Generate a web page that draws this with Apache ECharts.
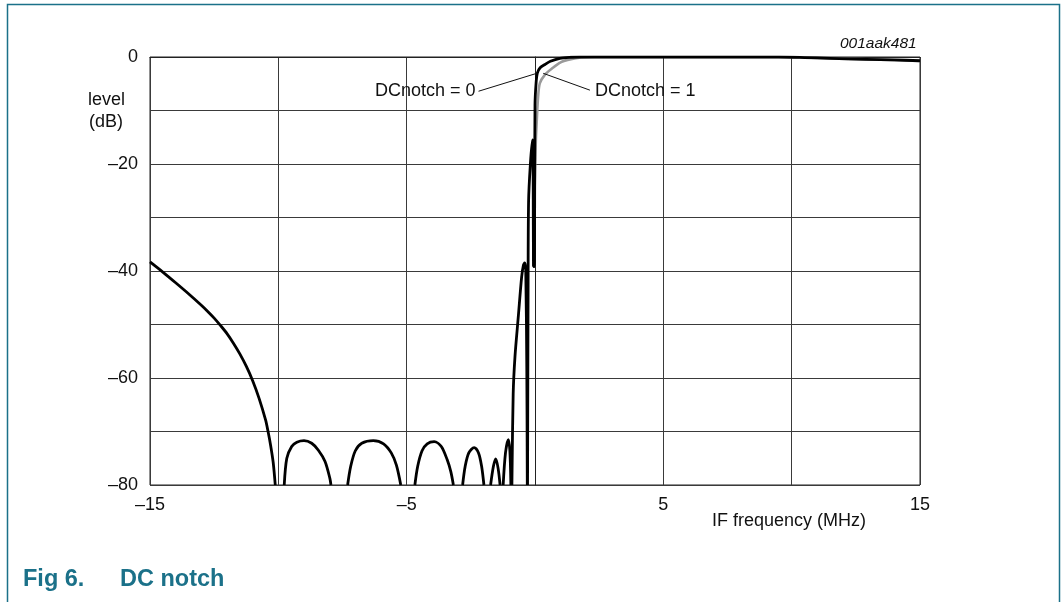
<!DOCTYPE html>
<html>
<head>
<meta charset="utf-8">
<title>DC notch</title>
<script src="https://cdn.jsdelivr.net/npm/echarts@6/dist/echarts.min.js"></script>
<style>
html, body { margin: 0; padding: 0; background: #fff; }
#main { width: 1063px; height: 602px; }
</style>
</head>
<body>
<div id="main"></div>
<script>
// IF frequency (MHz) and level (dB).
// null = trace has dropped below the -80 dB floor (line is broken there)
var notch0Freq = [
  -15, -14.5, -14.0, -13.5, -13.0, -12.75, -12.5, -12.25, -12.0, -11.75, -11.5, -11.25, -11.0, -10.75, -10.5, -10.4, -10.3, -10.2, -10.12, -10.05,
  -9.77, -9.67, -9.48, -9.28, -9.0, -8.7, -8.44, -8.18, -7.99, -7.95, -7.6,
  -7.30, -7.18, -7.0, -6.75, -6.3, -5.9, -5.6, -5.4, -5.23, -5.0,
  -4.68, -4.57, -4.4, -4.2, -3.93, -3.65, -3.42, -3.28, -3.18, -3.0,
  -2.82, -2.72, -2.58, -2.37, -2.2, -2.08, -1.99, -1.85,
  -1.73, -1.62, -1.53, -1.44, -1.36, -1.3,
  -1.24, -1.15, -1.04, -0.98, -0.94, -0.92,
  -0.90, -0.85, -0.78, -0.65, -0.52, -0.45, -0.40, -0.36, -0.32, -0.30, -0.295,
  -0.29, -0.27, -0.25, -0.18, -0.10, -0.07, -0.06, -0.03, -0.01,
  0.0, 0.04, 0.09, 0.2, 0.39, 0.6, 0.97, 1.4, 1.75, 5, 9.5, 10.5, 11.5, 12.9, 14, 15
];
var notch0Level = [
  -38.3, -40.2, -42.2, -44.25, -46.4, -47.55, -48.8, -50.2, -51.7, -53.5, -55.5, -57.8, -60.5, -63.8, -67.8, -70.0, -72.6, -75.8, -80, null,
  -80, -75, -72.8, -72, -71.7, -72.2, -73.5, -75.6, -78.8, -80, null,
  -80, -76.5, -73.6, -72.2, -71.7, -72.3, -74, -76.3, -80, null,
  -80, -76.5, -73.6, -72.3, -71.9, -72.8, -75.3, -77.5, -80, null,
  -80, -76.5, -74, -73.0, -74, -76.5, -80, null,
  -80, -76.5, -75.1, -76.8, -80, null,
  -80, -74, -71.5, -73.5, -80, null,
  -80, -63, -56, -48.5, -41.1, -38.9, -38.5, -40, -58, -80, null,
  -80, -45, -27, -20, -15.5, -24, -39, -39.2, -22,
  -9, -5, -3, -2, -1.4, -0.8, -0.25, -0.05, 0, 0, 0, -0.1, -0.25, -0.45, -0.55, -0.7
];
var notch1Freq = [
  -0.02, 0.03, 0.07, 0.12, 0.19, 0.39, 0.65, 1.0, 1.4, 1.8, 2.3, 5, 9.5, 10.5, 11.5, 12.9, 14, 15
];
var notch1Level = [
  -26, -16, -11.8, -7.5, -4.9, -3.3, -2.2, -1.0, -0.4, -0.1, 0, 0, 0, -0.1, -0.25, -0.45, -0.6, -0.75
];
var xTickLabels = [-15, -5, 5, 15];
var yTickLabels = [0, -20, -40, -60, -80];

var FONT = '"Liberation Sans", Arial, Helvetica, sans-serif';
var TEAL = '#1b7189';

function pairs(f, l) {
  return f.map(function (x, i) { return [x, l[i] === null ? '-' : l[i]]; });
}
function dash(v) {
  return v < 0 ? '\u2013' + Math.abs(v) : String(v);
}

var myChart = echarts.init(document.getElementById('main'), null, { renderer: 'canvas' });

var option = {
  animation: false,
  backgroundColor: '#fff',
  grid: { left: 150, right: 143, top: 57, bottom: 117, show: true, borderColor: '#222', borderWidth: 1 },
  xAxis: {
    type: 'value', min: -15, max: 15, interval: 5,
    axisLine: { show: true, lineStyle: { color: '#222', width: 1 } },
    axisTick: { show: false },
    axisLabel: {
      margin: 11, color: '#111', fontSize: 18, fontFamily: FONT,
      formatter: function (v) { return xTickLabels.indexOf(v) >= 0 ? dash(v) : ''; }
    },
    splitLine: { show: true, lineStyle: { color: '#3a3a3a', width: 1 } }
  },
  yAxis: {
    type: 'value', min: -80, max: 0, interval: 10,
    axisLine: { show: true, lineStyle: { color: '#222', width: 1 } },
    axisTick: { show: false },
    axisLabel: {
      margin: 12, color: '#111', fontSize: 18, fontFamily: FONT,
      formatter: function (v) { return yTickLabels.indexOf(v) >= 0 ? dash(v) : ''; }
    },
    splitLine: { show: true, lineStyle: { color: '#3a3a3a', width: 1 } }
  },
  series: [
    {
      name: 'DCnotch = 1', type: 'line', z: 2,
      data: pairs(notch1Freq, notch1Level),
      showSymbol: false, symbol: 'none', connectNulls: false,
      smooth: 0.3,
      lineStyle: { color: '#9a9a9a', width: 2.6 },
      markLine: {
        silent: true, symbol: 'none', label: { show: false },
        lineStyle: { color: '#111', width: 1, type: 'solid' },
        data: [
          [{ coord: [-2.2, -6.4] }, { coord: [0.07, -3.05] }],
          [{ coord: [0.32, -3.05] }, { coord: [2.14, -6.2] }]
        ]
      },
      markPoint: {
        silent: true, symbol: 'circle', symbolSize: 0,
        label: { show: true, color: '#111', fontSize: 18, fontFamily: FONT },
        data: [
          { coord: [-2.2, -6.4], label: { position: 'left', distance: 3, formatter: 'DCnotch = 0' } },
          { coord: [2.14, -6.3], label: { position: 'right', distance: 5, formatter: 'DCnotch = 1' } }
        ]
      }
    },
    {
      name: 'DCnotch = 0', type: 'line', z: 3,
      data: pairs(notch0Freq, notch0Level),
      showSymbol: false, symbol: 'none', connectNulls: false,
      smooth: 0.3,
      lineStyle: { color: '#000', width: 2.8, join: 'round' }
    }
  ],
  graphic: [
    {
      type: 'polyline', silent: true,
      shape: { points: [[7.5, 602], [7.5, 4.5], [1059.5, 4.5], [1059.5, 602]] },
      style: { stroke: TEAL, lineWidth: 1.5, fill: null }
    },
    { type: 'text', left: 88, top: 91, style: { text: 'level', font: '18px ' + FONT, fill: '#111' } },
    { type: 'text', left: 89, top: 113, style: { text: '(dB)', font: '18px ' + FONT, fill: '#111' } },
    { type: 'text', left: 712, top: 512, style: { text: 'IF frequency (MHz)', font: '18px ' + FONT, fill: '#111' } },
    { type: 'text', left: 840, top: 36, style: { text: '001aak481', font: 'italic 15.5px ' + FONT, fill: '#111' } },
    { type: 'text', left: 23, top: 568, style: { text: 'Fig 6.', font: 'bold 23.5px ' + FONT, fill: TEAL } },
    { type: 'text', left: 120, top: 568, style: { text: 'DC notch', font: 'bold 23.5px ' + FONT, fill: TEAL } }
  ]
};
myChart.setOption(option);
</script>
</body>
</html>
